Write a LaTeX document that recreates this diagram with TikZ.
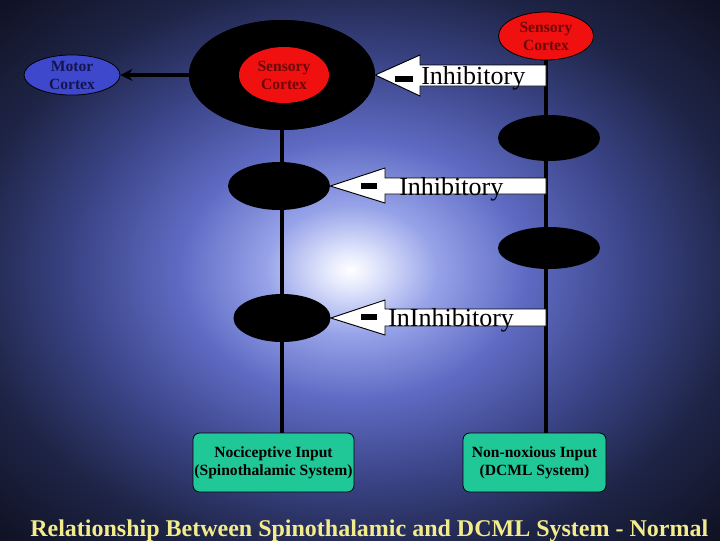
\documentclass[tikz,border=0pt]{standalone}
\usepackage{fontspec}
\setmainfont{Liberation Serif}
\usetikzlibrary{arrows.meta,shapes.geometric}
\definecolor{bgdark}{RGB}{12,14,28}
\definecolor{bgmid}{RGB}{30,36,70}
\definecolor{glowA}{RGB}{225,230,252}
\definecolor{glowB}{RGB}{150,162,232}
\definecolor{glowC}{RGB}{95,107,195}
\definecolor{glowD}{RGB}{60,70,138}
\definecolor{motorblue}{RGB}{62,72,204}
\definecolor{motortext}{RGB}{20,20,80}
\definecolor{cortexred}{RGB}{240,16,16}
\definecolor{cortextext}{RGB}{110,8,8}
\definecolor{boxteal}{RGB}{32,200,152}
\definecolor{titleyellow}{RGB}{242,236,140}
\pgfdeclareradialshading{glow}{\pgfpoint{-0.7bp}{0bp}}{%
  color(0bp)=(white); color(1.8bp)=(glowA); color(6bp)=(glowB);
  color(12bp)=(glowC); color(19bp)=(glowD); color(27bp)=(bgmid); color(37bp)=(bgdark); color(50bp)=(bgdark)}
\tikzset{
  lbl/.style={font=\fontsize{11.7}{13.5}\selectfont\bfseries, align=center, inner sep=0pt},
  blackell/.style={ellipse, fill=black, inner sep=0pt},
  redell/.style={ellipse, fill=cortexred, draw=black, line width=0.6pt, text=cortextext, lbl},
  inbox/.style={rounded corners=5pt, fill=boxteal, draw=black, line width=0.6pt, lbl},
  blockarrow/.style={fill=white, draw=black, line width=0.7pt},
  minusbar/.style={fill=black},
  inhib/.style={font=\fontsize{19.5}{22}\selectfont, anchor=base west, inner sep=0pt},
  vline/.style={line width=2.6pt, black},
}
\begin{document}
\begin{tikzpicture}[x=0.75pt,y=-0.75pt]
\useasboundingbox (0,0) rectangle (720,540);
\shade[shading=glow] (0,0) rectangle (720,540);

% vertical lines
\node[blackell, minimum width=139.5pt, minimum height=82.5pt] (big) at (282,75) {};
\node[redell, minimum width=71.25pt, minimum height=36pt] (sc2) at (546,36) {Sensory\\Cortex};
\node[inbox, minimum width=120.75pt, minimum height=44.25pt] (noci) at (273.5,462.5) {Nociceptive Input\\(Spinothalamic System)};
\node[inbox, minimum width=107.25pt, minimum height=44.25pt] (nonnox) at (534.5,462.5) {Non-noxious Input\\(DCML System)};
\draw[vline] (282,128) -- (noci.north -| 282,0);
\draw[vline] (sc2.south) -- (nonnox.north -| 546,0);

% redraw big ellipse over line
\node[blackell, minimum width=139.5pt, minimum height=82.5pt] at (282,75) {};
\node[ellipse, fill=cortexred, text=cortextext, lbl, minimum width=67.5pt, minimum height=42pt] (sc1) at (284,75) {Sensory\\Cortex};

\node[ellipse, fill=motorblue, draw=black, line width=0.6pt, text=motortext, lbl, minimum width=72pt, minimum height=30pt] (motor) at (72,75) {Motor\\Cortex};
\draw[line width=2.4pt, -{Stealth[length=9pt,width=9pt]}] (big.west) -- (motor.east);

% black ellipses
\node[blackell, minimum width=76.5pt, minimum height=34.5pt] (r1) at (549,138) {};
\node[blackell, minimum width=76.5pt, minimum height=31.5pt] (r2) at (549,248) {};
\node[blackell, minimum width=76.5pt, minimum height=36pt] (l1) at (279,186) {};
\node[blackell, minimum width=72.75pt, minimum height=36pt] (l2) at (282,318) {};

% block arrows
\draw[blockarrow] (big.east) -- (420,55) -- (420,65) -- (546,65) -- (546,86) -- (420,86) -- (420,96) -- cycle;
\fill[minusbar] (395,76) rectangle (413,82);
\node[inhib] (t1) at (421,84) {Inhibitory};

\draw[blockarrow] (l1.east) -- (385,168) -- (385,178) -- (546,178) -- (546,194) -- (385,194) -- (385,203) -- cycle;
\fill[minusbar] (361,183) rectangle (377,189);
\node[inhib] (t2) at (399,195) {Inhibitory};

\draw[blockarrow] (l2.east) -- (385,300) -- (385,309) -- (546,309) -- (546,326) -- (385,326) -- (385,335) -- cycle;
\fill[minusbar] (361,314) rectangle (377,320);
\node[inhib] (t3) at (388,326) {InInhibitory};

% title
\node[font=\fontsize{18}{20}\selectfont\bfseries, text=titleyellow, anchor=base west, inner sep=0pt] (title) at (30,536) {Relationship Between Spinothalamic and DCML System - Normal};
\end{tikzpicture}
\end{document}
